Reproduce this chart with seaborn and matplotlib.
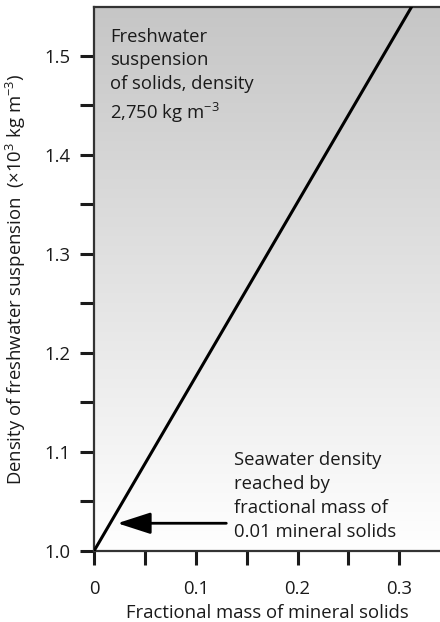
import numpy as np
import pandas as pd
import matplotlib
matplotlib.use("Agg")
import matplotlib.pyplot as plt
import seaborn as sns

# Suspension density line (fractional mass vs. density, x10^3 kg m^-3)
frac_mass = [0.0, 0.312]
density = [1.0, 1.549]

# Seawater density marker
seawater_density = 1.028
arrow_tip_x = 0.023
arrow_tail_x = 0.130

x_major = [0.0, 0.1, 0.2, 0.3]
x_major_labels = ["0", "0.1", "0.2", "0.3"]
x_minor = [0.05, 0.15, 0.25]
y_major = [1.0, 1.1, 1.2, 1.3, 1.4, 1.5]
y_major_labels = ["1.0", "1.1", "1.2", "1.3", "1.4", "1.5"]
y_minor = [1.05, 1.15, 1.25, 1.35, 1.45]

FS = 13.3
INK = "#1a1a1a"

sns.set_theme(style="white")
plt.rcParams["font.family"] = ["Open Sans", "DejaVu Sans"]
plt.rcParams["mathtext.fontset"] = "custom"
plt.rcParams["mathtext.rm"] = "Open Sans"
plt.rcParams["mathtext.it"] = "Open Sans"

fig = plt.figure(figsize=(4.4, 6.22), dpi=100)
ax = fig.add_axes([94 / 440, 1 - 551 / 622, 1 - 94 / 440, 544 / 622])

xmin, xmax = 0.0, 0.340
ymin, ymax = 1.0, 1.549

# Vertical grey-to-white background gradient
grad = np.linspace(0, 1, 256).reshape(-1, 1)
ax.imshow(grad, extent=[xmin, xmax, ymin, ymax], origin="lower",
          aspect="auto", cmap=matplotlib.colors.LinearSegmentedColormap.from_list(
              "bg", ["#ffffff", "#c6c6c6"]), zorder=0)

df = pd.DataFrame({"frac": frac_mass, "dens": density})
sns.lineplot(data=df, x="frac", y="dens", ax=ax, color="black", lw=2.2, zorder=3)

ax.annotate("", xy=(arrow_tip_x, seawater_density), xytext=(arrow_tail_x, seawater_density),
            arrowprops=dict(arrowstyle="-|>,head_length=1.7,head_width=0.55",
                            color="black", lw=2.0, shrinkA=0, shrinkB=0), zorder=4)

ax.text(0.1375, 1.0141,
        "Seawater density\nreached by\nfractional mass of\n0.01 mineral solids",
        fontsize=FS, va="baseline", ha="left", linespacing=1.42, color=INK)
ax.text(0.016, 1.436,
        "Freshwater\nsuspension\nof solids, density\n2,750 kg m$^{-3}$",
        fontsize=FS, va="baseline", ha="left", linespacing=1.42, color=INK)

ax.set_xlim(xmin, xmax)
ax.set_ylim(ymin, ymax)

ax.set_xticks(x_major)
ax.set_xticklabels(x_major_labels)
ax.set_xticks(x_minor, minor=True)
ax.set_yticks(y_major)
ax.set_yticklabels(y_major_labels)
ax.set_yticks(y_minor, minor=True)

ax.tick_params(axis="both", which="both", direction="out", color=INK,
               width=2.2, labelsize=FS, labelcolor=INK)
ax.tick_params(axis="x", which="both", length=10, pad=11)
ax.tick_params(axis="y", which="both", length=10, pad=7)
ax.tick_params(axis="both", which="both", bottom=True, left=True)

for side in ["left", "bottom", "top"]:
    ax.spines[side].set_visible(True)
    ax.spines[side].set_color("#333333")
    ax.spines[side].set_linewidth(1.6)
ax.spines["right"].set_visible(False)

ax.set_xlabel("Fractional mass of mineral solids", fontsize=FS, color=INK, labelpad=4)
ax.set_ylabel("Density of freshwater suspension  (×10$^{3}$ kg m$^{-3}$)",
              fontsize=FS, color=INK)
ax.yaxis.set_label_coords(-0.19, 0.5)

fig.savefig("out.png", dpi=100)
